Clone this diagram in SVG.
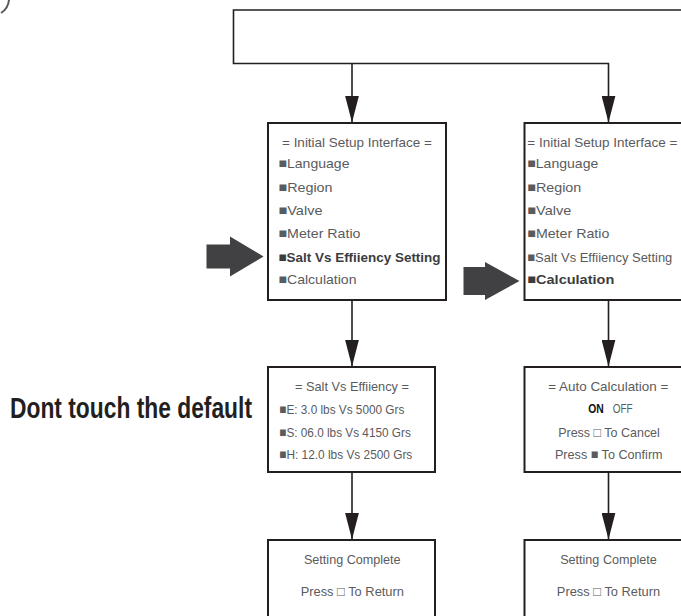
<svg xmlns="http://www.w3.org/2000/svg" width="681" height="616" viewBox="0 0 681 616">
<defs>
<style>
.box{fill:#fff;stroke:#231f20;stroke-width:2}
.ln{fill:none;stroke:#231f20;stroke-width:1.6}
.t{font-family:"Liberation Sans",Arial,sans-serif;font-size:13.5px;fill:#5a5b5d}
.b{font-weight:bold;fill:#3c3c3e}
.big{fill:#414042}
</style>
<marker id="ah" viewBox="0 0 27 14" refX="27" refY="7" markerWidth="27" markerHeight="14" markerUnits="userSpaceOnUse" orient="auto">
<path d="M0,0 L27,7 L0,14 z" fill="#231f20"/>
</marker>
</defs>
<rect width="681" height="616" fill="#fff"/>
<path d="M9 0 Q8 9 1 13" fill="none" stroke="#58595b" stroke-width="2"/>
<g id="connectors">
<path class="ln" d="M681 10 H233.5 V63.5 H608.5 V122.5" marker-end="url(#ah)"/>
<path class="ln" d="M352 63.5 V122.5" marker-end="url(#ah)"/>
<path class="ln" d="M352 300 V366.5" marker-end="url(#ah)"/>
<path class="ln" d="M352 472 V539.5" marker-end="url(#ah)"/>
<path class="ln" d="M608.5 300 V366.5" marker-end="url(#ah)"/>
<path class="ln" d="M608.5 472 V539.5" marker-end="url(#ah)"/>
<polygon class="big" points="206.5,244.5 230,244.5 230,236.5 263.5,256.5 230,276.5 230,268.5 206.5,268.5"/>
<polygon class="big" points="463.5,267 485,267 485,262 519.5,281 485,300 485,295 463.5,295"/>
</g>
<g id="note">
<text transform="translate(10,418) scale(0.76,1)" x="0" y="0" textLength="318.4" lengthAdjust="spacingAndGlyphs" style="font-family:'Liberation Sans',Arial,sans-serif;font-size:30px;font-weight:bold;fill:#231f20">Dont touch the default</text>
</g>
<g id="setup-left">
<rect class="box" x="268" y="123" width="178" height="177"/>
<text class="t" x="357" y="146.7" text-anchor="middle" textLength="150" lengthAdjust="spacingAndGlyphs">= Initial Setup Interface =</text>
<text class="t" x="278.5" y="168" textLength="71" lengthAdjust="spacingAndGlyphs">■Language</text>
<text class="t" x="278.5" y="191.5" textLength="54" lengthAdjust="spacingAndGlyphs">■Region</text>
<text class="t" x="278.5" y="215" textLength="44" lengthAdjust="spacingAndGlyphs">■Valve</text>
<text class="t" x="278.5" y="238.3" textLength="82" lengthAdjust="spacingAndGlyphs">■Meter Ratio</text>
<text class="t b" x="278.5" y="261.7" textLength="162" lengthAdjust="spacingAndGlyphs">■Salt Vs Effiiency Setting</text>
<text class="t" x="278.5" y="284.3" textLength="78" lengthAdjust="spacingAndGlyphs">■Calculation</text>
</g>
<g id="setup-right">
<rect class="box" x="524.5" y="123" width="178" height="177"/>
<text class="t" x="527.3" y="146.7" textLength="150" lengthAdjust="spacingAndGlyphs">= Initial Setup Interface =</text>
<text class="t" x="527.3" y="168" textLength="71" lengthAdjust="spacingAndGlyphs">■Language</text>
<text class="t" x="527.3" y="191.5" textLength="54" lengthAdjust="spacingAndGlyphs">■Region</text>
<text class="t" x="527.3" y="215" textLength="44" lengthAdjust="spacingAndGlyphs">■Valve</text>
<text class="t" x="527.3" y="238.3" textLength="82" lengthAdjust="spacingAndGlyphs">■Meter Ratio</text>
<text class="t" x="527.3" y="261.7" textLength="145" lengthAdjust="spacingAndGlyphs">■Salt Vs Effiiency Setting</text>
<text class="t b" x="527.3" y="284.3" textLength="87" lengthAdjust="spacingAndGlyphs">■Calculation</text>
</g>
<g id="salt-vs-efficiency">
<rect class="box" x="268" y="367" width="167" height="105"/>
<text class="t" x="352" y="390.7" text-anchor="middle" textLength="114" lengthAdjust="spacingAndGlyphs">= Salt Vs Effiiency =</text>
<text class="t" x="279.3" y="414.3" textLength="125" lengthAdjust="spacingAndGlyphs">■E: 3.0 lbs Vs 5000 Grs</text>
<text class="t" x="279.3" y="436.7" textLength="131.5" lengthAdjust="spacingAndGlyphs">■S: 06.0 lbs Vs 4150 Grs</text>
<text class="t" x="279.3" y="459.3" textLength="133" lengthAdjust="spacingAndGlyphs">■H: 12.0 lbs Vs 2500 Grs</text>
</g>
<g id="auto-calculation">
<rect class="box" x="524.5" y="367" width="167" height="105"/>
<text class="t" x="608.3" y="390.7" text-anchor="middle" textLength="120" lengthAdjust="spacingAndGlyphs">= Auto Calculation =</text>
<text class="t b" x="588.3" y="413.3" textLength="15.5" lengthAdjust="spacingAndGlyphs" style="fill:#111">ON</text>
<text class="t" x="612.7" y="413.3" textLength="20" lengthAdjust="spacingAndGlyphs">OFF</text>
<text class="t" x="609" y="436.7" text-anchor="middle" textLength="101.7" lengthAdjust="spacingAndGlyphs">Press □ To Cancel</text>
<text class="t" x="608.8" y="459.3" text-anchor="middle" textLength="107.7" lengthAdjust="spacingAndGlyphs">Press ■ To Confirm</text>
</g>
<g id="complete-left">
<rect class="box" x="268" y="540" width="167" height="90"/>
<text class="t" x="352.3" y="564.3" text-anchor="middle" textLength="96.7" lengthAdjust="spacingAndGlyphs">Setting Complete</text>
<text class="t" x="352.3" y="595.7" text-anchor="middle" textLength="103.3" lengthAdjust="spacingAndGlyphs">Press □ To Return</text>
</g>
<g id="complete-right">
<rect class="box" x="524.5" y="540" width="167" height="90"/>
<text class="t" x="608.5" y="564.3" text-anchor="middle" textLength="96.7" lengthAdjust="spacingAndGlyphs">Setting Complete</text>
<text class="t" x="608.5" y="595.7" text-anchor="middle" textLength="103.3" lengthAdjust="spacingAndGlyphs">Press □ To Return</text>
</g>
</svg>
